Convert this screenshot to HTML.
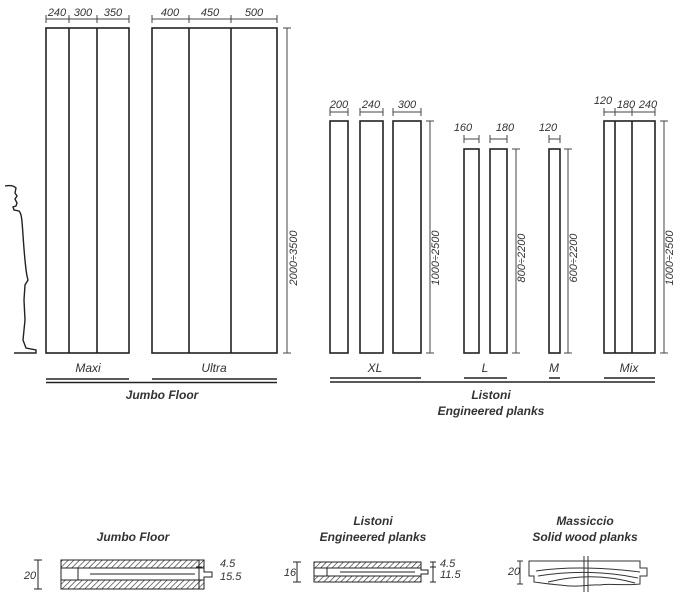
<!DOCTYPE html>
<html><head><meta charset="utf-8"><style>
html,body{margin:0;padding:0;background:#fff}
svg{display:block}
text{font-family:"Liberation Sans",sans-serif;fill:#333}
.d{font-size:11px;font-style:italic}
.l{font-size:12px;font-style:italic}
.t{font-size:12px;font-style:italic;font-weight:bold}
</style></head><body>
<svg width="682" height="598" viewBox="0 0 682 598">
<defs>
<pattern id="h" width="4" height="4" patternUnits="userSpaceOnUse" patternTransform="rotate(45)"><line x1="0" y1="0" x2="0" y2="4" stroke="#333" stroke-width="1.3"/></pattern>
</defs>
<g fill="none" stroke="#222" stroke-width="1.6">
<rect x="46" y="28" width="83" height="325"/>
<line x1="69" y1="28" x2="69" y2="353"/><line x1="97" y1="28" x2="97" y2="353"/>
<rect x="152" y="28" width="125" height="325"/>
<line x1="189" y1="28" x2="189" y2="353"/><line x1="231" y1="28" x2="231" y2="353"/>
<rect x="330" y="121" width="18" height="232"/>
<rect x="360" y="121" width="23" height="232"/>
<rect x="393" y="121" width="28" height="232"/>
<rect x="464" y="149" width="15" height="204"/>
<rect x="490" y="149" width="17" height="204"/>
<rect x="549" y="149" width="11" height="204"/>
<rect x="604" y="121" width="51" height="232"/>
<line x1="615" y1="121" x2="615" y2="353"/><line x1="632" y1="121" x2="632" y2="353"/>
</g>
<g stroke="#444" stroke-width="1" fill="none">
<path d="M46 19H129M46 15V23M69 15V23M97 15V23M129 15V23"/>
<path d="M152 19H277M152 15V23M189 15V23M231 15V23M277 15V23"/>
<path d="M330 112H348M330 108V116M348 108V116M360 112H383M360 108V116M383 108V116M393 112H421M393 108V116M421 108V116"/>
<path d="M464 139H479M464 135V143M479 135V143M490 139H507M490 135V143M507 135V143"/>
<path d="M549 139H560M549 135V143M560 135V143"/>
<path d="M604 112H655M604 108V116M615 108V116M632 108V116M655 108V116"/>
<path d="M287 28V353M283 28H291M283 353H291"/>
<path d="M430 121V353M426 121H434M426 353H434"/>
<path d="M516 149V353M512 149H520M512 353H520"/>
<path d="M568 149V353M564 149H572M564 353H572"/>
<path d="M664 121V353M660 121H668M660 353H668"/>
<path d="M5 186C10 185 14 186 16 188L15 193L17 196L15 199L17 203L16 206L13 207L14 210L19 211C22 214 22 222 23 235C24 250 25 265 27 276L28 280L25 285L24 300L25 320L23 340L26 348L36 350L36 353H14" stroke="#222" stroke-width="1.4"/>
</g>
<g stroke="#222" stroke-width="1.6">
<path d="M46 379H129M152 379H277M46 382.5H277"/>
<path d="M330 378H421M464 378H507M549 378H560M604 378H655M330 382H655"/>
</g>
<g text-anchor="middle">
<text x="57" y="16" class="d">240</text><text x="83" y="16" class="d">300</text><text x="113" y="16" class="d">350</text>
<text x="170" y="16" class="d">400</text><text x="210" y="16" class="d">450</text><text x="254" y="16" class="d">500</text>
<text x="339" y="108" class="d">200</text><text x="371" y="108" class="d">240</text><text x="407" y="108" class="d">300</text>
<text x="463" y="131" class="d">160</text><text x="505" y="131" class="d">180</text>
<text x="548" y="131" class="d">120</text>
<text x="603" y="104" class="d">120</text><text x="626" y="108" class="d">180</text><text x="648" y="108" class="d">240</text>
<text class="d" transform="translate(297,258) rotate(-90)" font-size="8">2000÷3500</text>
<text class="d" transform="translate(439,258) rotate(-90)" font-size="8">1000÷2500</text>
<text class="d" transform="translate(525,258) rotate(-90)" font-size="8">800÷2200</text>
<text class="d" transform="translate(577,258) rotate(-90)" font-size="8">600÷2200</text>
<text class="d" transform="translate(673,258) rotate(-90)" font-size="8">1000÷2500</text>
</g>
<g text-anchor="middle">
<text x="88" y="372" class="l">Maxi</text><text x="214" y="372" class="l">Ultra</text>
<text x="375" y="372" class="l">XL</text><text x="485" y="372" class="l">L</text><text x="554" y="372" class="l">M</text><text x="629" y="372" class="l">Mix</text>
<text x="162" y="399" class="t">Jumbo Floor</text>
<text x="491" y="399" class="t">Listoni</text><text x="491" y="415" class="t">Engineered planks</text>
<text x="133" y="541" class="t">Jumbo Floor</text>
<text x="373" y="525" class="t">Listoni</text><text x="373" y="541" class="t">Engineered planks</text>
<text x="585" y="525" class="t">Massiccio</text><text x="585" y="541" class="t">Solid wood planks</text>
</g>
<g stroke="#222" stroke-width="1">
<rect x="61" y="560" width="143" height="8" fill="url(#h)"/>
<rect x="61" y="580" width="143" height="9" fill="url(#h)"/>
<path d="M61 568V580M204 568V572H212V577H204V580M78 568V580" fill="none"/>
<line x1="90" y1="574" x2="195" y2="574"/>
<path d="M38 560V589M34 560H42M34 589H42M199 560V589M196 560H202M196 567H202M196 589H202" fill="none"/>
</g>
<text x="30" y="579" class="d" font-size="9" text-anchor="middle">20</text>
<text x="220" y="567" class="d" font-size="9">4.5</text><text x="220" y="580" class="d" font-size="9">15.5</text>
<g stroke="#222" stroke-width="1">
<rect x="314" y="562" width="107" height="6" fill="url(#h)"/>
<rect x="314" y="576" width="107" height="6" fill="url(#h)"/>
<path d="M314 568V576M421 568V570H428V574H421V576M327 568V576" fill="none"/>
<line x1="340" y1="572" x2="415" y2="572"/>
<path d="M297 562V582M293 562H301M293 582H301M433 562V582M430 562H436M430 567H436M430 582H436" fill="none"/>
</g>
<text x="290" y="576" class="d" font-size="9" text-anchor="middle">16</text>
<text x="440" y="567" class="d" font-size="9">4.5</text><text x="440" y="578" class="d" font-size="9">11.5</text>
<g stroke="#333" stroke-width="1" fill="none">
<path d="M529 561H640V568H647V576H640V584C620 586 610 583 600 585C590 584 580 588 560 585C548 584 542 583 534 582V576H529Z"/>
<path d="M536 571C570 566 610 568 640 572M538 576C575 570 610 572 638 578M548 582C580 574 610 576 635 583"/>
<path d="M584 556V592M588 556V592"/>
<path d="M520 561V584M517 561H523M517 584H523"/>
</g>
<text x="514" y="575" class="d" font-size="9" text-anchor="middle">20</text>
</svg>
</body></html>
